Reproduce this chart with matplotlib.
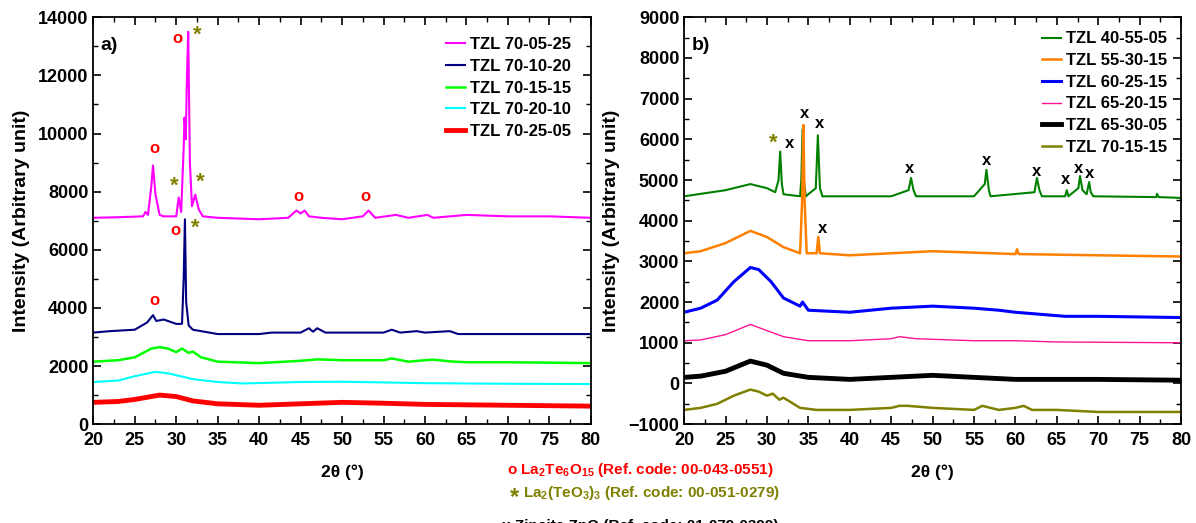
import matplotlib
matplotlib.use("Agg")
import matplotlib.pyplot as plt
from matplotlib.ticker import MultipleLocator

plt.rcParams['font.family'] = ['Liberation Sans', 'DejaVu Sans']
plt.rcParams['font.weight'] = 'bold'
plt.rcParams['mathtext.fontset'] = 'custom'
plt.rcParams['mathtext.rm'] = 'Liberation Sans:bold'
plt.rcParams['mathtext.bf'] = 'Liberation Sans:bold'
plt.rcParams['mathtext.it'] = 'Liberation Sans:bold'

# ---- panel a) data (2theta, intensity) ----
a_7005_x = [20, 23, 26, 26.3, 26.6, 27.0, 27.2, 27.5, 28.0, 28.5, 30.0, 30.3, 30.6, 30.9, 31.0, 31.15, 31.3,
            31.45, 31.65, 31.9, 32.3, 32.7, 33.2, 35, 40, 43.5, 44.5, 45.0, 45.5, 46.0, 47.5, 50, 52.5,
            53.2, 54.0, 56.5, 58, 60.3, 61, 65, 70, 75, 80]
a_7005_y = [7100, 7120, 7150, 7300, 7200, 8200, 8900, 7900, 7200, 7150, 7150, 7800, 7300, 9500, 10550, 9800, 12000,
            13500, 9000, 7500, 7900, 7400, 7150, 7100, 7050, 7100, 7350, 7250, 7350, 7150, 7100, 7050, 7150,
            7350, 7100, 7200, 7100, 7200, 7100, 7200, 7150, 7150, 7100]

a_7010_x = [20, 22, 25, 26.5, 27.2, 27.6, 28.5, 30, 30.7, 30.9, 31.05, 31.2, 31.5, 32, 35, 40, 41.5,
            45, 46, 46.5, 47, 48, 55, 56, 57, 59, 60, 63, 64, 70, 80]
a_7010_y = [3150, 3200, 3250, 3500, 3750, 3550, 3600, 3450, 3450, 5000, 7050, 4200, 3400, 3250, 3100, 3100, 3150,
            3150, 3300, 3180, 3300, 3150, 3150, 3250, 3150, 3200, 3150, 3200, 3100, 3100, 3100]

a_7015_x = [20, 23, 25, 27, 28, 29, 30, 30.7, 31.5, 32, 33, 35, 40, 45, 47, 50, 55, 56, 58, 60, 61, 63, 65, 70, 80]
a_7015_y = [2150, 2200, 2300, 2600, 2650, 2600, 2480, 2600, 2450, 2500, 2300, 2150, 2100, 2180, 2230, 2200, 2200,
            2260, 2150, 2200, 2220, 2160, 2130, 2130, 2100]

a_7020_x = [20, 23, 25, 27.5, 29, 32, 35, 38, 45, 50, 60, 70, 80]
a_7020_y = [1450, 1500, 1650, 1800, 1750, 1550, 1450, 1400, 1450, 1460, 1410, 1390, 1380]

a_7025_x = [20, 23, 25, 28, 30, 32, 35, 40, 45, 50, 55, 60, 70, 80]
a_7025_y = [750, 780, 850, 1000, 950, 800, 700, 650, 700, 750, 720, 680, 650, 620]

# ---- panel b) data ----
b_4055_x = [20, 25, 28, 30, 31, 31.4, 31.6, 31.8, 32, 34, 34.15, 34.3, 34.45, 34.7, 35.9, 36.15, 36.4, 36.7, 40, 45,
            47.1, 47.4, 47.7, 48, 55, 56.3, 56.5, 56.8, 57, 62.3, 62.6, 62.9, 63.2, 66.0, 66.2, 66.4, 67.6, 67.8,
            68.1, 68.6, 68.9, 69.1, 69.4, 77, 77.1, 77.3, 80]
b_4055_y = [4600, 4750, 4900, 4800, 4700, 5000, 5700, 4900, 4650, 4600, 5000, 6250, 5000, 4600, 4800, 6100, 4800, 4600, 4600, 4600,
            4750, 5050, 4750, 4600, 4600, 4900, 5250, 4750, 4600, 4700, 5050, 4750, 4600, 4600, 4750, 4600, 4800, 5100,
            4750, 4650, 4950, 4700, 4600, 4580, 4660, 4580, 4560]

b_5530_x = [20, 22, 25, 28, 30, 32, 34, 34.25, 34.4, 34.55, 34.8, 36.0, 36.2, 36.4, 40, 50, 60, 60.2, 60.4, 70, 80]
b_5530_y = [3200, 3250, 3450, 3750, 3600, 3350, 3200, 4500, 6350, 4500, 3200, 3200, 3600, 3200, 3150, 3250, 3180,
            3300, 3180, 3150, 3120]

b_6025_x = [20, 22, 24, 26, 28, 29, 30.5, 32, 34, 34.3, 35, 40, 45, 50, 55, 58, 60, 63, 66, 70, 80]
b_6025_y = [1750, 1850, 2050, 2500, 2850, 2800, 2500, 2100, 1900, 2000, 1800, 1750, 1850, 1900, 1850, 1800, 1750,
            1700, 1650, 1650, 1620]

b_6520_x = [20, 22, 25, 28, 30, 32, 35, 40, 45, 46, 48, 55, 60, 65, 80]
b_6520_y = [1050, 1070, 1200, 1450, 1300, 1150, 1050, 1050, 1100, 1150, 1100, 1050, 1050, 1020, 1000]

b_6530_x = [20, 22, 25, 28, 30, 32, 35, 40, 45, 50, 55, 60, 70, 80]
b_6530_y = [150, 180, 300, 550, 450, 250, 150, 100, 150, 200, 150, 100, 100, 80]

b_7015_x = [20, 22, 24, 26, 28, 29, 30, 30.7, 31.5, 32, 34, 36, 40, 45, 46, 47, 50, 55, 56, 58, 60, 61, 62, 65, 70, 80]
b_7015_y = [-650, -600, -500, -300, -150, -200, -300, -250, -400, -350, -600, -650, -650, -600, -550, -550, -600,
            -650, -550, -650, -600, -550, -650, -650, -700, -700]

# ---- peak markers (symbol, 2theta, intensity) ----
a_marks = [('o', 27.35, 9500), ('o', 30.2, 13280), ('*', 32.5, 13380), ('*', 29.8, 8200), ('*', 32.9, 8320),
           ('o', 44.8, 7840), ('o', 52.8, 7840), ('o', 29.9, 6670), ('*', 32.3, 6740), ('o', 27.35, 4270)]
b_marks = [('*', 30.75, 5900), ('x', 32.7, 5900), ('x', 34.5, 6640), ('x', 36.4, 6400), ('x', 47.2, 5290),
           ('x', 56.5, 5490), ('x', 62.6, 5220), ('x', 66.1, 5020), ('x', 67.6, 5290), ('x', 69.0, 5170),
           ('x', 36.7, 3820)]

mark_colors = {'o': '#ff0000', '*': '#808000', 'x': 'black'}

fig = plt.figure(figsize=(11.96, 5.23), dpi=100)
ax1 = fig.add_axes([0.078, 0.189, 0.416, 0.778])
ax2 = fig.add_axes([0.572, 0.189, 0.4155, 0.778])

ax1.plot(a_7005_x, a_7005_y, color='#ff00ff', lw=1.5, label='TZL 70-05-25')
ax1.plot(a_7010_x, a_7010_y, color='#000080', lw=1.5, label='TZL 70-10-20')
ax1.plot(a_7015_x, a_7015_y, color='#00ff00', lw=1.8, label='TZL 70-15-15')
ax1.plot(a_7020_x, a_7020_y, color='#00ffff', lw=1.5, label='TZL 70-20-10')
ax1.plot(a_7025_x, a_7025_y, color='#ff0000', lw=3.5, label='TZL 70-25-05')

ax2.plot(b_4055_x, b_4055_y, color='#008000', lw=1.5, label='TZL 40-55-05')
ax2.plot(b_5530_x, b_5530_y, color='#ff8000', lw=1.8, label='TZL 55-30-15')
ax2.plot(b_6025_x, b_6025_y, color='#0000ff', lw=2.2, label='TZL 60-25-15')
ax2.plot(b_6520_x, b_6520_y, color='#ff1493', lw=1.0, label='TZL 65-20-15')
ax2.plot(b_6530_x, b_6530_y, color='black', lw=3.5, label='TZL 65-30-05')
ax2.plot(b_7015_x, b_7015_y, color='#808000', lw=1.8, label='TZL 70-15-15')

for ax, marks in ((ax1, a_marks), (ax2, b_marks)):
    for sym, tx, ty in marks:
        size = 16 if sym == '*' else 12
        ax.text(tx, ty, sym, color=mark_colors[sym], fontsize=size, fontweight='bold',
                ha='center', va='center')

ax1.set_ylim(0, 14000)
ax1.yaxis.set_major_locator(MultipleLocator(2000))
ax1.yaxis.set_minor_locator(MultipleLocator(1000))
ax2.set_ylim(-1000, 9000)
ax2.yaxis.set_major_locator(MultipleLocator(1000))
ax2.yaxis.set_minor_locator(MultipleLocator(500))

for ax, tag, pad in ((ax1, 'a)', 0.8), (ax2, 'b)', 0.45)):
    ax.set_xlim(20, 80)
    ax.xaxis.set_major_locator(MultipleLocator(5))
    ax.xaxis.set_minor_locator(MultipleLocator(2.5))
    ax.tick_params(which='both', direction='in', top=True, right=True, labelsize=13)
    ax.tick_params(axis='x', which='major', pad=6)
    ax.tick_params(which='major', length=6, width=1.2)
    ax.tick_params(which='minor', length=3.5, width=1.0)
    for lbl in ax.get_xticklabels() + ax.get_yticklabels():
        lbl.set_fontweight('bold')
    for sp in ax.spines.values():
        sp.set_linewidth(1.3)
    ax.set_xlabel('2θ (°)', fontsize=12.5, fontweight='bold', labelpad=11)
    ax.set_ylabel('Intensity (Arbitrary unit)', fontsize=14, fontweight='bold', labelpad=6)
    ax.text(0.015, 0.93, tag, transform=ax.transAxes, fontsize=14, fontweight='bold', va='center')
    leg = ax.legend(loc='upper right', frameon=False, fontsize=12, handlelength=1.1,
                    handletextpad=0.3, labelspacing=0.4, borderaxespad=pad)
    for t in leg.get_texts():
        t.set_fontweight('bold')

# phase key under the panels
fig.text(0.535, 0.101, r'o La$_{2}$Te$_{6}$O$_{15}$ (Ref. code: 00-043-0551)', color='#ff0000',
         fontsize=11, fontweight='bold', ha='center', va='center')
olive_txt = fig.text(0.545, 0.057, r'La$_{2}$(TeO$_{3}$)$_{3}$ (Ref. code: 00-051-0279)', color='#808000',
                     fontsize=11, fontweight='bold', ha='center', va='center')
fig.canvas.draw()
bb = olive_txt.get_window_extent()
fig.text(bb.x0 - 4, bb.y0 + bb.height * 0.25, '*', transform=None, color='#808000', fontsize=17,
         fontweight='bold', ha='right', va='center')
fig.text(0.535, -0.006, 'x Zincite ZnO (Ref. code: 01-079-0399)', color='black',
         fontsize=11, fontweight='bold', ha='center', va='center')

fig.savefig('out.png', dpi=100)
